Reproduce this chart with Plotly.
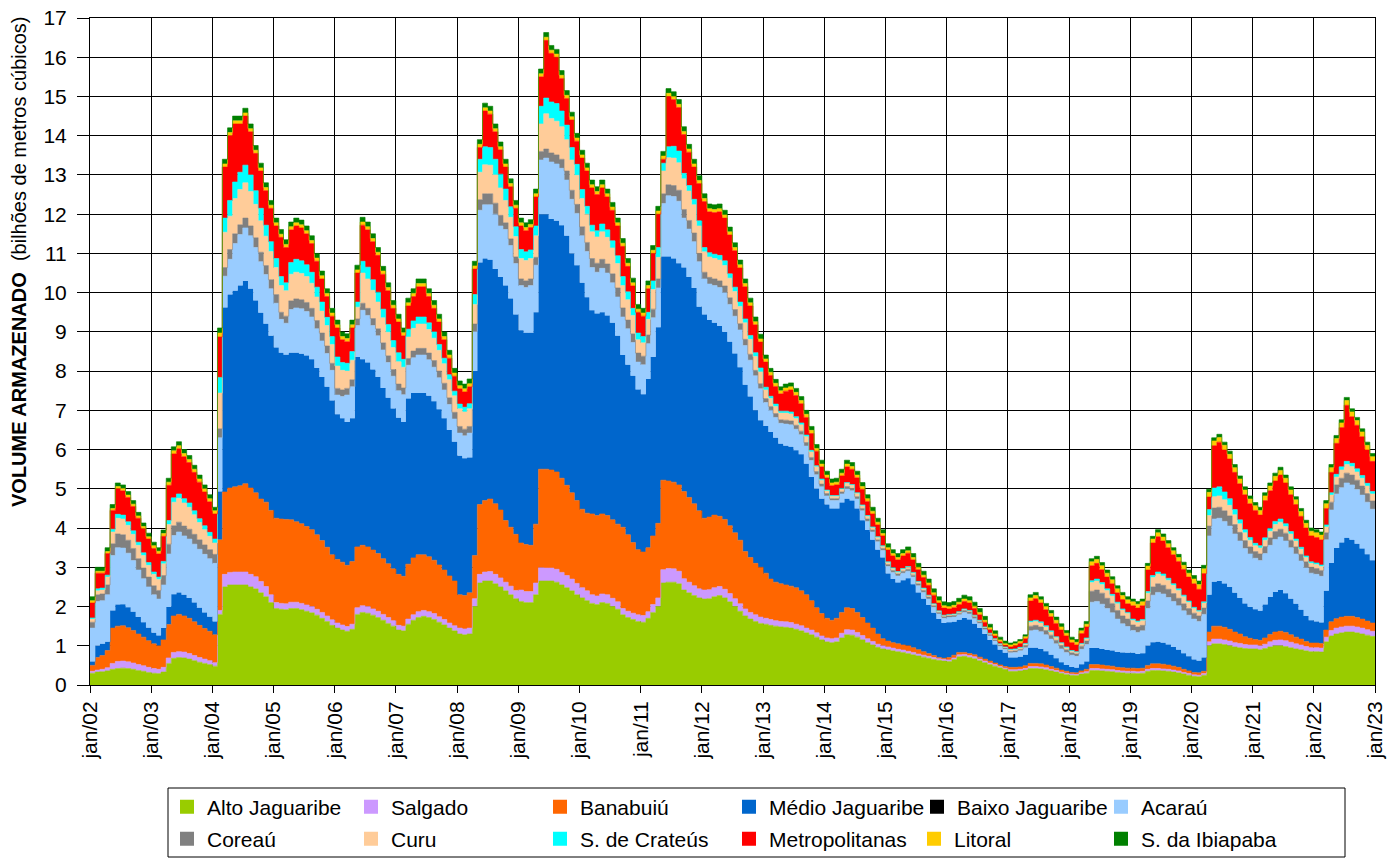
import pandas as pd
import plotly.graph_objects as go

# ---------------- data (monthly, jan/2002 .. dez/2022), bilhões de m³ ----------------
alto_jaguaribe = [
0.30,0.33,0.34,0.36,0.40,0.42,0.43,0.42,0.40,0.37,0.35,0.32,
0.30,0.29,0.33,0.55,0.68,0.70,0.69,0.66,0.62,0.58,0.55,0.52,
0.48,1.80,2.50,2.55,2.55,2.55,2.55,2.50,2.45,2.35,2.25,2.10,
1.95,1.93,1.92,1.95,1.95,1.92,1.88,1.84,1.78,1.70,1.62,1.52,
1.45,1.40,1.37,1.42,1.80,1.85,1.83,1.78,1.72,1.65,1.57,1.50,
1.40,1.38,1.55,1.65,1.72,1.75,1.72,1.67,1.60,1.53,1.45,1.38,
1.30,1.28,1.30,2.00,2.60,2.65,2.65,2.58,2.50,2.40,2.30,2.20,
2.13,2.10,2.10,2.30,2.65,2.65,2.65,2.62,2.55,2.48,2.40,2.30,
2.22,2.15,2.08,2.05,2.10,2.08,2.00,1.93,1.79,1.72,1.67,1.62,
1.60,1.70,1.85,2.00,2.60,2.62,2.62,2.58,2.42,2.35,2.28,2.22,
2.19,2.20,2.25,2.28,2.22,2.12,2.00,1.88,1.76,1.68,1.62,1.57,
1.55,1.52,1.50,1.48,1.47,1.45,1.42,1.38,1.33,1.28,1.22,1.15,
1.10,1.08,1.10,1.20,1.28,1.27,1.22,1.15,1.08,1.02,0.96,0.92,
0.90,0.87,0.85,0.83,0.80,0.77,0.74,0.71,0.68,0.65,0.63,0.61,
0.60,0.65,0.72,0.73,0.70,0.67,0.62,0.57,0.52,0.48,0.44,0.40,
0.35,0.35,0.36,0.38,0.42,0.42,0.41,0.39,0.36,0.33,0.30,0.27,
0.25,0.24,0.28,0.30,0.37,0.37,0.36,0.35,0.34,0.32,0.31,0.30,
0.30,0.29,0.30,0.35,0.37,0.37,0.36,0.35,0.33,0.31,0.28,0.25,
0.22,0.21,0.25,1.00,1.05,1.05,1.03,1.00,0.97,0.95,0.93,0.92,
0.92,0.90,0.93,0.97,1.00,1.00,0.98,0.95,0.92,0.90,0.87,0.85,
0.85,0.84,1.10,1.25,1.30,1.33,1.35,1.35,1.33,1.30,1.27,1.24]

salgado = [
0.05,0.05,0.06,0.08,0.15,0.18,0.18,0.17,0.16,0.15,0.14,0.13,
0.12,0.11,0.12,0.14,0.15,0.15,0.15,0.14,0.13,0.12,0.11,0.10,
0.09,0.10,0.32,0.32,0.33,0.33,0.33,0.32,0.31,0.29,0.26,0.20,
0.15,0.15,0.15,0.16,0.16,0.16,0.16,0.16,0.15,0.15,0.14,0.14,
0.13,0.13,0.12,0.13,0.17,0.17,0.17,0.16,0.16,0.15,0.15,0.14,
0.12,0.12,0.13,0.14,0.15,0.15,0.15,0.15,0.14,0.14,0.13,0.13,
0.15,0.15,0.15,0.20,0.22,0.23,0.24,0.24,0.23,0.22,0.22,0.21,
0.29,0.28,0.28,0.30,0.34,0.33,0.33,0.33,0.32,0.31,0.30,0.29,
0.26,0.25,0.22,0.22,0.22,0.22,0.21,0.19,0.16,0.16,0.16,0.17,
0.17,0.17,0.20,0.22,0.34,0.35,0.34,0.32,0.29,0.27,0.25,0.23,
0.23,0.23,0.23,0.23,0.22,0.21,0.20,0.19,0.18,0.17,0.17,0.16,
0.15,0.15,0.14,0.14,0.14,0.14,0.13,0.13,0.12,0.12,0.11,0.10,
0.10,0.10,0.10,0.12,0.13,0.13,0.12,0.11,0.10,0.09,0.08,0.08,
0.07,0.07,0.06,0.06,0.06,0.06,0.05,0.05,0.05,0.05,0.04,0.04,
0.04,0.04,0.05,0.05,0.05,0.05,0.04,0.04,0.04,0.04,0.03,0.03,
0.04,0.04,0.04,0.04,0.05,0.05,0.05,0.05,0.04,0.04,0.03,0.03,
0.03,0.03,0.03,0.04,0.05,0.05,0.05,0.05,0.05,0.05,0.05,0.05,
0.05,0.05,0.05,0.05,0.05,0.05,0.05,0.05,0.05,0.05,0.04,0.04,
0.04,0.04,0.04,0.10,0.12,0.12,0.12,0.12,0.11,0.11,0.10,0.10,
0.10,0.10,0.11,0.13,0.14,0.15,0.15,0.14,0.13,0.12,0.11,0.10,
0.10,0.10,0.12,0.14,0.15,0.15,0.15,0.15,0.15,0.15,0.14,0.13]

banabuiu = [
0.15,0.32,0.35,0.44,0.90,0.90,0.90,0.87,0.83,0.78,0.73,0.68,
0.63,0.60,0.70,0.85,0.93,0.95,0.92,0.90,0.86,0.82,0.78,0.75,
0.71,1.80,2.10,2.15,2.17,2.20,2.25,2.20,2.14,2.10,2.15,2.15,
2.15,2.15,2.15,2.10,2.05,2.03,2.00,1.96,1.90,1.83,1.75,1.66,
1.62,1.60,1.56,1.60,1.55,1.54,1.52,1.50,1.47,1.42,1.37,1.32,
1.30,1.27,1.40,1.45,1.45,1.42,1.40,1.36,1.32,1.26,1.20,1.14,
0.85,0.85,0.90,1.10,1.78,1.82,1.85,1.80,1.73,1.57,1.50,1.43,
1.20,1.20,1.18,1.50,2.51,2.52,2.50,2.48,2.40,2.30,2.20,2.11,
2.00,1.98,2.06,2.05,2.04,2.02,2.00,1.98,2.07,1.95,1.80,1.66,
1.62,1.63,1.75,1.90,2.28,2.23,2.21,2.20,2.22,2.16,2.09,1.99,
1.83,1.85,1.85,1.79,1.78,1.73,1.68,1.62,1.46,1.40,1.31,1.27,
1.15,1.03,0.98,0.96,0.94,0.93,0.93,0.89,0.85,0.75,0.64,0.57,
0.50,0.47,0.50,0.53,0.56,0.55,0.51,0.46,0.40,0.34,0.26,0.18,
0.15,0.14,0.14,0.13,0.14,0.12,0.11,0.09,0.07,0.05,0.03,0.03,
0.06,0.07,0.06,0.05,0.05,0.05,0.05,0.05,0.05,0.04,0.04,0.04,
0.06,0.06,0.06,0.07,0.08,0.08,0.08,0.07,0.07,0.06,0.05,0.05,
0.04,0.04,0.05,0.06,0.10,0.10,0.10,0.09,0.09,0.08,0.08,0.08,
0.08,0.08,0.08,0.10,0.12,0.12,0.12,0.11,0.10,0.09,0.08,0.07,
0.06,0.06,0.06,0.25,0.33,0.33,0.32,0.30,0.27,0.24,0.20,0.17,
0.14,0.14,0.16,0.19,0.21,0.22,0.21,0.19,0.17,0.15,0.13,0.12,
0.12,0.12,0.18,0.22,0.24,0.25,0.25,0.25,0.24,0.23,0.22,0.21]

medio_jaguaribe = [
0.10,0.30,0.30,0.22,0.45,0.55,0.55,0.52,0.48,0.43,0.38,0.33,
0.28,0.26,0.30,0.45,0.55,0.56,0.54,0.52,0.49,0.45,0.41,0.37,
0.34,1.23,4.70,4.93,5.00,5.10,5.17,5.08,4.90,4.75,4.55,4.45,
4.35,4.24,4.20,4.26,4.31,4.33,4.36,4.34,4.25,4.17,4.09,3.93,
3.70,3.67,3.65,3.65,4.84,4.74,4.70,4.60,4.50,4.35,4.23,4.09,
3.99,3.93,4.22,4.20,4.12,4.12,4.10,4.05,3.97,3.87,3.72,3.55,
3.54,3.50,3.45,4.70,6.17,6.17,6.10,5.98,5.94,5.99,5.83,5.60,
5.42,5.40,5.42,5.40,6.50,6.50,6.40,6.40,6.45,6.36,6.10,6.00,
5.77,5.50,5.19,5.15,5.14,5.10,5.02,4.80,4.39,4.33,4.25,4.08,
4.02,4.30,4.56,5.00,5.70,5.72,5.70,5.65,5.71,5.62,5.50,5.20,
5.19,5.02,4.90,4.85,4.78,4.69,4.57,4.41,4.25,4.10,3.90,3.75,
3.75,3.75,3.68,3.57,3.55,3.55,3.50,3.48,3.34,3.15,3.03,2.93,
2.90,2.85,2.80,2.80,2.78,2.75,2.65,2.48,2.37,2.25,2.15,2.07,
1.72,1.62,1.56,1.65,1.72,1.62,1.46,1.35,1.24,1.09,0.98,0.90,
0.90,0.85,0.83,0.88,0.87,0.79,0.74,0.64,0.54,0.47,0.39,0.35,
0.25,0.25,0.26,0.28,0.40,0.40,0.38,0.35,0.30,0.25,0.20,0.16,
0.14,0.13,0.17,0.20,0.42,0.42,0.41,0.40,0.40,0.39,0.39,0.39,
0.39,0.37,0.38,0.50,0.55,0.56,0.55,0.52,0.49,0.45,0.41,0.37,
0.33,0.31,0.35,0.95,1.13,1.15,1.12,1.08,1.00,0.92,0.85,0.80,
0.77,0.75,0.85,0.95,1.02,1.05,1.00,0.92,0.85,0.75,0.65,0.58,
0.55,0.53,1.00,1.50,1.80,1.90,2.00,1.95,1.88,1.80,1.70,1.60]

baixo_jaguaribe = [
0,0,0,0,0,0,0,0,0,0,0,0,
0,0,0,0,0,0,0,0,0,0,0,0,
0,0,0,0,0,0,0,0,0,0,0,0,
0,0,0,0,0,0,0,0,0,0,0,0,
0,0,0,0,0,0,0,0,0,0,0,0,
0,0,0,0,0,0,0,0,0,0,0,0,
0,0,0,0,0,0,0,0,0,0,0,0,
0,0,0,0,0,0,0,0,0,0,0,0,
0,0,0,0,0,0,0,0,0,0,0,0,
0,0,0,0,0,0,0,0,0,0,0,0,
0,0,0,0,0,0,0,0,0,0,0,0,
0,0,0,0,0,0,0,0,0,0,0,0,
0,0,0,0,0,0,0,0,0,0,0,0,
0,0,0,0,0,0,0,0,0,0,0,0,
0,0,0,0,0,0,0,0,0,0,0,0,
0,0,0,0,0,0,0,0,0,0,0,0,
0,0,0,0,0,0,0,0,0,0,0,0,
0,0,0,0,0,0,0,0,0,0,0,0,
0,0,0,0,0,0,0,0,0,0,0,0,
0,0,0,0,0,0,0,0,0,0,0,0,
0,0,0,0,0,0,0,0,0,0,0,0]

acarau = [
0.85,1.13,1.10,1.20,1.40,1.45,1.43,1.38,1.30,1.20,1.11,1.04,
0.97,0.93,1.10,1.35,1.50,1.54,1.50,1.50,1.49,1.49,1.48,1.48,
1.48,1.37,0.80,0.90,1.20,1.30,1.35,1.35,1.35,1.30,1.25,1.20,
1.13,0.85,0.80,1.10,1.14,1.15,1.12,1.08,1.00,0.92,0.85,0.77,
0.49,0.55,0.69,0.80,0.80,1.25,1.20,1.12,1.05,0.97,0.90,0.82,
0.69,0.70,0.85,0.90,0.97,0.97,0.92,0.87,0.80,0.72,0.65,0.58,
0.58,0.57,0.62,1.00,1.33,1.37,1.40,1.40,1.30,1.43,1.35,1.30,
1.14,1.15,1.20,1.20,1.38,1.43,1.45,1.45,1.45,1.42,1.38,1.32,
1.20,1.17,1.09,1.05,1.12,1.08,1.02,0.99,0.97,0.92,0.85,0.70,
0.75,0.90,1.00,1.00,1.35,1.55,1.58,1.58,1.26,1.22,1.18,1.15,
0.91,0.92,0.95,0.98,1.00,0.95,0.95,0.95,1.00,0.93,0.88,0.80,
0.60,0.55,0.52,0.52,0.55,0.56,0.54,0.50,0.45,0.42,0.36,0.30,
0.22,0.20,0.20,0.22,0.25,0.25,0.24,0.24,0.22,0.20,0.20,0.18,
0.18,0.17,0.17,0.18,0.18,0.18,0.17,0.16,0.15,0.14,0.13,0.12,
0.12,0.12,0.13,0.14,0.14,0.13,0.12,0.11,0.10,0.09,0.09,0.09,
0.12,0.13,0.15,0.18,0.43,0.45,0.44,0.42,0.40,0.37,0.34,0.32,
0.30,0.29,0.38,0.43,1.17,1.19,1.14,1.06,0.96,0.84,0.73,0.67,
0.57,0.55,0.57,0.95,1.20,1.26,1.24,1.20,1.16,1.12,1.08,1.05,
1.03,1.00,1.10,1.50,1.60,1.60,1.58,1.55,1.50,1.45,1.40,1.35,
1.30,1.28,1.30,1.32,1.34,1.35,1.33,1.30,1.27,1.24,1.22,1.20,
1.20,1.18,1.30,1.35,1.38,1.40,1.40,1.40,1.38,1.36,1.33,1.30]

coreau = [
0.15,0.17,0.17,0.25,0.30,0.35,0.34,0.33,0.31,0.29,0.27,0.25,
0.23,0.22,0.24,0.25,0.25,0.25,0.25,0.25,0.25,0.24,0.24,0.23,
0.23,0.23,0.22,0.25,0.25,0.25,0.25,0.25,0.25,0.24,0.23,0.23,
0.22,0.18,0.18,0.22,0.23,0.23,0.23,0.22,0.21,0.20,0.19,0.18,
0.17,0.17,0.17,0.18,0.17,0.18,0.18,0.18,0.18,0.18,0.17,0.17,
0.17,0.17,0.17,0.17,0.17,0.17,0.17,0.17,0.17,0.17,0.17,0.17,
0.17,0.17,0.17,0.20,0.27,0.28,0.28,0.28,0.27,0.17,0.17,0.17,
0.17,0.17,0.17,0.20,0.22,0.23,0.23,0.23,0.23,0.23,0.23,0.23,
0.23,0.23,0.23,0.23,0.23,0.23,0.23,0.23,0.23,0.22,0.22,0.23,
0.22,0.22,0.22,0.23,0.25,0.28,0.28,0.28,0.22,0.22,0.22,0.21,
0.17,0.17,0.17,0.17,0.17,0.17,0.17,0.16,0.16,0.15,0.14,0.13,
0.10,0.10,0.10,0.09,0.10,0.10,0.10,0.09,0.09,0.08,0.08,0.07,
0.06,0.05,0.05,0.05,0.06,0.06,0.06,0.06,0.06,0.05,0.05,0.05,
0.05,0.05,0.05,0.05,0.05,0.05,0.05,0.05,0.05,0.04,0.04,0.04,
0.04,0.04,0.04,0.05,0.05,0.05,0.04,0.04,0.04,0.03,0.03,0.03,
0.04,0.04,0.04,0.05,0.12,0.12,0.12,0.11,0.10,0.09,0.08,0.07,
0.06,0.06,0.08,0.09,0.28,0.29,0.28,0.26,0.24,0.22,0.20,0.19,
0.14,0.14,0.14,0.19,0.21,0.22,0.22,0.21,0.20,0.19,0.18,0.17,
0.15,0.14,0.16,0.25,0.28,0.28,0.27,0.26,0.24,0.22,0.20,0.18,
0.17,0.17,0.18,0.19,0.20,0.20,0.20,0.19,0.18,0.17,0.16,0.15,
0.15,0.15,0.18,0.20,0.23,0.24,0.25,0.25,0.24,0.23,0.22,0.21]

curu = [
0.08,0.10,0.10,0.20,0.30,0.40,0.40,0.38,0.36,0.34,0.32,0.30,
0.29,0.28,0.30,0.50,0.60,0.61,0.59,0.56,0.50,0.44,0.39,0.34,
0.29,0.91,0.90,0.85,0.90,0.90,0.90,0.88,0.85,0.80,0.75,0.72,
0.69,0.68,0.65,0.68,0.68,0.67,0.66,0.64,0.60,0.56,0.52,0.48,
0.57,0.50,0.44,0.50,0.30,0.77,0.75,0.72,0.68,0.64,0.60,0.56,
0.57,0.53,0.55,0.58,0.62,0.62,0.60,0.57,0.53,0.50,0.46,0.42,
0.45,0.44,0.45,0.50,0.70,0.74,0.73,0.72,0.70,0.57,0.55,0.52,
0.52,0.52,0.52,0.55,0.70,0.90,0.88,0.86,0.83,0.80,0.77,0.74,
0.72,0.72,0.68,0.67,0.70,0.68,0.66,0.62,0.57,0.52,0.47,0.34,
0.34,0.40,0.50,0.55,0.58,0.69,0.70,0.70,0.78,0.75,0.72,0.70,
0.52,0.52,0.52,0.53,0.52,0.50,0.46,0.44,0.42,0.38,0.35,0.30,
0.22,0.20,0.18,0.17,0.18,0.18,0.17,0.16,0.15,0.14,0.12,0.10,
0.07,0.06,0.06,0.07,0.08,0.08,0.08,0.07,0.07,0.06,0.06,0.05,
0.05,0.05,0.04,0.05,0.05,0.05,0.04,0.04,0.04,0.04,0.03,0.03,
0.03,0.03,0.03,0.03,0.03,0.03,0.03,0.02,0.02,0.02,0.02,0.02,
0.03,0.03,0.03,0.04,0.10,0.10,0.10,0.09,0.08,0.07,0.06,0.05,
0.04,0.04,0.05,0.06,0.22,0.23,0.22,0.20,0.19,0.17,0.15,0.14,
0.12,0.12,0.12,0.20,0.24,0.25,0.24,0.23,0.21,0.20,0.18,0.16,
0.12,0.11,0.13,0.27,0.29,0.29,0.28,0.27,0.25,0.22,0.20,0.17,
0.15,0.15,0.16,0.17,0.18,0.18,0.17,0.16,0.15,0.13,0.11,0.10,
0.10,0.10,0.15,0.18,0.20,0.21,0.22,0.22,0.21,0.20,0.19,0.18]

crateus = [
0.03,0.05,0.05,0.05,0.07,0.10,0.10,0.09,0.09,0.08,0.07,0.07,
0.06,0.06,0.06,0.10,0.11,0.11,0.11,0.11,0.10,0.10,0.10,0.10,
0.10,0.40,0.36,0.40,0.42,0.44,0.45,0.42,0.35,0.32,0.28,0.25,
0.23,0.23,0.20,0.30,0.33,0.32,0.30,0.28,0.25,0.23,0.21,0.20,
0.23,0.20,0.20,0.22,0.13,0.30,0.30,0.27,0.25,0.22,0.20,0.18,
0.23,0.20,0.20,0.19,0.18,0.18,0.17,0.16,0.15,0.14,0.13,0.12,
0.12,0.12,0.13,0.25,0.33,0.46,0.45,0.40,0.35,0.29,0.27,0.25,
0.23,0.22,0.22,0.25,0.45,0.40,0.42,0.45,0.40,0.37,0.32,0.28,
0.23,0.20,0.17,0.16,0.20,0.19,0.18,0.20,0.23,0.20,0.18,0.17,
0.16,0.18,0.22,0.25,0.20,0.28,0.30,0.30,0.14,0.14,0.14,0.13,
0.11,0.11,0.11,0.12,0.12,0.11,0.11,0.11,0.10,0.10,0.10,0.10,
0.07,0.06,0.06,0.05,0.05,0.05,0.05,0.05,0.04,0.04,0.03,0.03,
0.02,0.02,0.02,0.02,0.02,0.02,0.02,0.02,0.02,0.02,0.02,0.02,
0.02,0.02,0.02,0.02,0.02,0.02,0.02,0.02,0.01,0.01,0.01,0.01,
0.01,0.01,0.01,0.01,0.01,0.01,0.01,0.01,0.01,0.01,0.01,0.01,
0.02,0.02,0.02,0.02,0.03,0.03,0.03,0.03,0.03,0.02,0.02,0.02,
0.02,0.02,0.02,0.02,0.05,0.05,0.05,0.04,0.04,0.04,0.03,0.03,
0.03,0.03,0.03,0.04,0.05,0.05,0.05,0.05,0.04,0.04,0.04,0.03,
0.03,0.03,0.03,0.15,0.22,0.23,0.20,0.17,0.13,0.10,0.08,0.07,
0.06,0.06,0.06,0.07,0.08,0.08,0.07,0.06,0.05,0.05,0.04,0.04,
0.04,0.04,0.05,0.06,0.07,0.08,0.08,0.08,0.08,0.07,0.07,0.06]

metropolitanas = [
0.38,0.40,0.38,0.55,0.48,0.65,0.62,0.62,0.62,0.61,0.61,0.60,
0.60,0.59,0.64,0.90,1.12,1.15,1.07,1.03,0.98,0.93,0.86,0.78,
0.64,1.03,1.30,1.65,1.48,1.23,1.25,1.10,0.95,0.95,0.88,0.85,
0.83,1.00,0.90,0.83,0.85,0.84,0.79,0.73,0.66,0.59,0.53,0.52,
0.74,0.58,0.55,0.60,0.74,0.92,0.95,0.97,0.94,0.89,0.86,0.82,
0.78,0.60,0.59,0.62,0.77,0.77,0.67,0.60,0.57,0.47,0.42,0.38,
0.39,0.39,0.43,0.65,0.30,0.91,0.85,0.70,0.62,0.56,0.51,0.47,
0.60,0.54,0.57,0.74,0.75,1.47,1.24,1.18,0.83,0.68,0.70,0.59,
0.80,0.90,0.95,0.92,0.92,0.84,0.78,0.76,0.77,0.65,0.57,0.53,
0.52,0.60,0.70,0.85,0.10,1.28,1.19,1.11,0.99,0.85,0.82,0.95,
1.17,1.04,1.06,1.11,1.09,0.99,0.93,0.87,0.82,0.75,0.71,0.66,
0.64,0.53,0.45,0.44,0.51,0.56,0.54,0.49,0.45,0.43,0.37,0.31,
0.31,0.25,0.27,0.32,0.40,0.39,0.38,0.40,0.36,0.33,0.30,0.25,
0.30,0.30,0.30,0.32,0.34,0.32,0.30,0.27,0.25,0.22,0.20,0.18,
0.14,0.16,0.18,0.19,0.19,0.17,0.14,0.12,0.09,0.07,0.05,0.04,
0.06,0.08,0.10,0.12,0.51,0.55,0.48,0.41,0.36,0.34,0.32,0.28,
0.20,0.17,0.25,0.28,0.38,0.40,0.33,0.30,0.27,0.24,0.24,0.22,
0.34,0.33,0.35,0.55,0.83,0.90,0.84,0.78,0.74,0.70,0.66,0.61,
0.60,0.54,0.72,0.32,1.08,1.14,1.07,1.01,0.95,0.92,0.89,0.86,
0.84,0.78,0.95,0.96,1.03,1.12,1.04,0.94,0.88,0.79,0.71,0.66,
0.65,0.64,0.42,0.52,0.79,1.00,1.43,1.19,1.11,0.99,0.85,0.77]

litoral = [
0.06,0.05,0.05,0.05,0.05,0.06,0.06,0.06,0.06,0.06,0.06,0.06,
0.07,0.07,0.07,0.08,0.08,0.08,0.08,0.08,0.08,0.08,0.08,0.08,
0.08,0.10,0.08,0.08,0.08,0.08,0.08,0.08,0.08,0.08,0.08,0.08,
0.08,0.08,0.08,0.08,0.08,0.08,0.08,0.08,0.08,0.08,0.08,0.08,
0.08,0.08,0.08,0.08,0.08,0.08,0.08,0.08,0.08,0.08,0.08,0.08,
0.08,0.08,0.08,0.08,0.08,0.08,0.08,0.08,0.08,0.08,0.08,0.08,
0.08,0.08,0.08,0.08,0.08,0.08,0.08,0.08,0.08,0.08,0.08,0.08,
0.08,0.08,0.08,0.08,0.08,0.08,0.08,0.08,0.08,0.08,0.08,0.08,
0.08,0.08,0.08,0.08,0.08,0.08,0.08,0.08,0.08,0.08,0.08,0.08,
0.08,0.08,0.08,0.08,0.08,0.08,0.08,0.08,0.08,0.08,0.08,0.08,
0.08,0.08,0.08,0.08,0.08,0.08,0.08,0.08,0.08,0.08,0.08,0.08,
0.08,0.08,0.08,0.08,0.08,0.08,0.08,0.08,0.08,0.08,0.07,0.07,
0.07,0.07,0.07,0.07,0.07,0.07,0.07,0.07,0.07,0.07,0.07,0.06,
0.06,0.06,0.06,0.06,0.06,0.06,0.06,0.06,0.06,0.06,0.06,0.06,
0.06,0.06,0.06,0.06,0.06,0.06,0.06,0.05,0.05,0.05,0.05,0.04,
0.05,0.05,0.05,0.05,0.08,0.08,0.08,0.08,0.08,0.08,0.08,0.07,
0.07,0.07,0.07,0.07,0.10,0.10,0.10,0.10,0.10,0.10,0.10,0.10,
0.10,0.10,0.10,0.10,0.10,0.10,0.10,0.10,0.10,0.10,0.10,0.10,
0.12,0.12,0.12,0.12,0.12,0.12,0.12,0.12,0.12,0.12,0.12,0.12,
0.12,0.12,0.12,0.12,0.12,0.12,0.12,0.12,0.12,0.12,0.12,0.12,
0.12,0.12,0.12,0.12,0.12,0.12,0.12,0.12,0.12,0.12,0.12,0.12]

ibiapaba = [
0.10,0.10,0.10,0.10,0.10,0.09,0.09,0.09,0.09,0.09,0.09,0.09,
0.09,0.09,0.09,0.10,0.10,0.10,0.10,0.10,0.10,0.10,0.10,0.10,
0.09,0.13,0.12,0.12,0.12,0.12,0.12,0.12,0.12,0.12,0.12,0.12,
0.12,0.12,0.12,0.12,0.12,0.12,0.12,0.12,0.12,0.12,0.12,0.12,
0.12,0.12,0.12,0.12,0.12,0.12,0.12,0.12,0.12,0.12,0.12,0.12,
0.12,0.12,0.12,0.12,0.12,0.12,0.12,0.12,0.12,0.12,0.12,0.12,
0.12,0.12,0.12,0.12,0.12,0.12,0.12,0.12,0.12,0.12,0.12,0.12,
0.12,0.12,0.12,0.12,0.12,0.12,0.12,0.12,0.12,0.12,0.12,0.12,
0.12,0.12,0.12,0.12,0.12,0.12,0.12,0.12,0.12,0.12,0.12,0.12,
0.12,0.12,0.12,0.12,0.12,0.12,0.12,0.12,0.12,0.12,0.12,0.12,
0.12,0.12,0.12,0.12,0.12,0.12,0.12,0.12,0.12,0.12,0.12,0.12,
0.10,0.10,0.10,0.10,0.10,0.10,0.10,0.10,0.10,0.10,0.10,0.10,
0.10,0.10,0.10,0.10,0.10,0.10,0.10,0.10,0.10,0.10,0.10,0.10,
0.10,0.10,0.10,0.10,0.10,0.10,0.10,0.10,0.10,0.10,0.10,0.10,
0.10,0.10,0.10,0.10,0.10,0.10,0.10,0.10,0.09,0.08,0.07,0.07,
0.05,0.05,0.05,0.05,0.08,0.08,0.08,0.08,0.08,0.08,0.08,0.07,
0.07,0.07,0.07,0.07,0.08,0.08,0.08,0.08,0.08,0.08,0.08,0.08,
0.07,0.07,0.07,0.07,0.07,0.08,0.08,0.08,0.08,0.08,0.08,0.08,
0.09,0.09,0.09,0.08,0.08,0.08,0.08,0.08,0.08,0.08,0.08,0.08,
0.08,0.08,0.08,0.08,0.08,0.08,0.08,0.08,0.08,0.08,0.08,0.08,
0.08,0.08,0.08,0.08,0.08,0.08,0.08,0.08,0.08,0.08,0.08,0.08]

series_names = ["Alto Jaguaribe", "Salgado", "Banabuiú", "Médio Jaguaribe",
                "Baixo Jaguaribe", "Acaraú", "Coreaú", "Curu", "S. de Crateús",
                "Metropolitanas", "Litoral", "S. da Ibiapaba"]
series_values = [alto_jaguaribe, salgado, banabuiu, medio_jaguaribe, baixo_jaguaribe,
                 acarau, coreau, curu, crateus, metropolitanas, litoral, ibiapaba]
series_colors = ["#99CC00", "#CC99FF", "#FF6600", "#0066CC", "#000000", "#99CCFF",
                 "#808080", "#FFCC99", "#00FFFF", "#FF0000", "#FFCC00", "#008000"]

tick_labels = ["jan/02", "jan/03", "jan/04", "jan/05", "jan/06", "jan/07", "jan/08",
               "jan/09", "jan/10", "jan/11", "jan/12", "jan/13", "jan/14", "jan/15",
               "jan/16", "jan/17", "jan/18", "jan/19", "jan/20", "jan/21", "jan/22",
               "jan/23"]

# ---------------- figure ----------------
W, H = 1399, 859
PL, PR, PT, PB = 90, 1375, 18, 685          # plot area (pixels)
FONT = "Liberation Sans, Arial, sans-serif"

months = list(pd.date_range("2002-01-01", periods=len(alto_jaguaribe), freq="MS"))
x_steps = months + [pd.Timestamp("2023-01-01")]   # closing edge of the last month
tick_vals = list(pd.date_range("2002-01-01", periods=len(tick_labels), freq="YS"))

fig = go.Figure()
for name, vals, color in zip(series_names, series_values, series_colors):
    y = list(vals) + [vals[-1]]
    lw = 0 if name == "Baixo Jaguaribe" else 0.6
    fig.add_trace(go.Scatter(
        x=x_steps, y=y, name=name, stackgroup="vol", mode="lines",
        line=dict(width=lw, color=color, shape="hv"), fillcolor=color,
        showlegend=False, hoverinfo="skip"))

# legend entries (square swatches), one small legend per entry to mimic the layout
legend_px = [(178, 807), (362, 807), (551, 807), (740, 807), (928, 807), (1112, 807),
             (178, 839), (362, 839), (551, 839), (740, 839), (925, 839), (1112, 839)]
legend_layouts = {}
for i, (name, color) in enumerate(zip(series_names, series_colors)):
    key = "legend" if i == 0 else f"legend{i+1}"
    fig.add_trace(go.Scatter(
        x=[None], y=[None], mode="markers", name=name, legend=key,
        marker=dict(symbol="square", size=14, color=color, line=dict(width=0)),
        showlegend=True, hoverinfo="skip"))
    px, py = legend_px[i]
    legend_layouts[key] = dict(
        x=(px - 11) / W, y=1 - py / H, xref="container", yref="container",
        xanchor="left", yanchor="middle", bgcolor="rgba(0,0,0,0)", borderwidth=0,
        font=dict(family=FONT, size=21, color="black"), itemwidth=30,
        orientation="v", tracegroupgap=0)

def px_to_paper_x(px):
    return (px - PL) / (PR - PL)

def px_to_paper_y(py):
    return (PB - py) / (PB - PT)

fig.update_layout(
    width=W, height=H,
    margin=dict(l=PL, r=W - PR, t=PT, b=H - PB, autoexpand=False),
    paper_bgcolor="white", plot_bgcolor="white",
    font=dict(family=FONT, size=21, color="black"),
    xaxis=dict(
        type="date", range=["2002-01-01", "2023-01-01"],
        tickvals=tick_vals, ticktext=tick_labels, tickangle=-90,
        tickfont=dict(family=FONT, size=21, color="black"),
        showgrid=True, gridcolor="black", gridwidth=1,
        ticks="outside", ticklen=7, tickcolor="black", tickwidth=1,
        showline=True, linecolor="black", linewidth=1, mirror=True,
        zeroline=False, automargin=False, ticklabeloverflow="allow"),
    yaxis=dict(
        range=[0, 17], dtick=1, tick0=0,
        tickfont=dict(family=FONT, size=21, color="black"),
        showgrid=True, gridcolor="black", gridwidth=1,
        ticks="outside", ticklen=12, tickcolor="black", tickwidth=1,
        ticklabelstandoff=6, ticklabeloverflow="allow",
        showline=True, linecolor="black", linewidth=1, mirror=True,
        zeroline=False, automargin=False),
    showlegend=True,
    **legend_layouts,
)

# legend frame
fig.add_shape(type="rect", xref="paper", yref="paper",
              x0=px_to_paper_x(168), x1=px_to_paper_x(1345),
              y0=px_to_paper_y(857), y1=px_to_paper_y(788),
              line=dict(color="black", width=1), fillcolor="rgba(0,0,0,0)")

# y-axis title
fig.add_annotation(
    text="<b>VOLUME ARMAZENADO</b>\u00a0\u00a0(bilhões de metros cúbicos)",
    xref="paper", yref="paper", x=px_to_paper_x(19), y=px_to_paper_y(262),
    xanchor="center", yanchor="middle", textangle=-90, showarrow=False,
    font=dict(family=FONT, size=20, color="black"))

# the page's default body margin would shift the figure; remove it
fig.write_html("out.html", config={"displayModeBar": False},
               post_script="document.body.style.margin='0';")
